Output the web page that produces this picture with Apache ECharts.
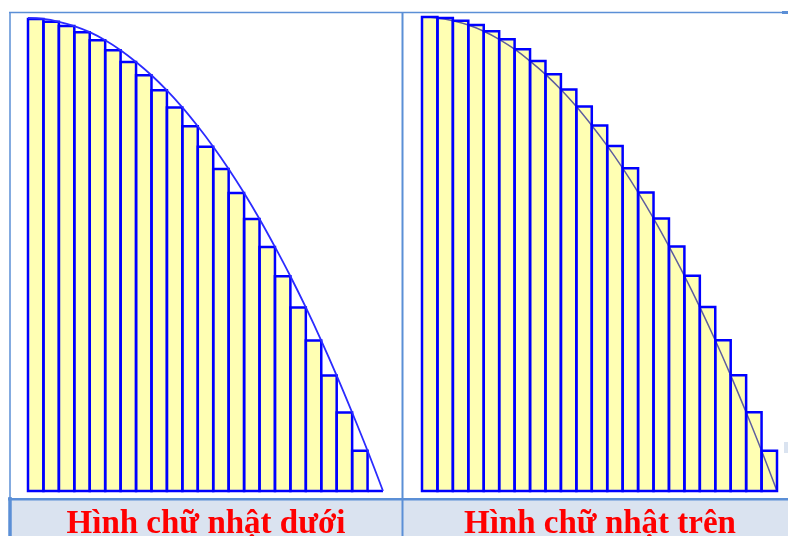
<!DOCTYPE html>
<html>
<head>
<meta charset="utf-8">
<script src="https://cdn.jsdelivr.net/npm/echarts@6/dist/echarts.min.js"></script>
<style>html,body{margin:0;padding:0;background:#fff;}#c{width:788px;height:536px;}</style>
</head>
<body>
<div id="c"></div>
<script>
// interval indices 0..23 along x (23 sub-intervals of [0,1])
var intervals = [0,1,2,3,4,5,6,7,8,9,10,11,12,13,14,15,16,17,18,19,20,21,22,23];
// curve heights read at each interval edge
var curveHeights = [1.000,0.998,0.992,0.983,0.970,0.953,0.932,0.907,0.879,0.847,0.811,0.771,
                    0.728,0.681,0.630,0.575,0.516,0.454,0.388,0.318,0.244,0.166,0.085,0.000];
// lower rectangles use the right edge height, upper rectangles the left edge height
var lowerRects = [];
var upperRects = [];
for (var i = 0; i < intervals.length - 1; i++) {
  lowerRects.push([intervals[i], intervals[i + 1], curveHeights[i + 1]]);
  upperRects.push([intervals[i], intervals[i + 1], curveHeights[i]]);
}
var curvePoints = intervals.map(function (k, i) { return [k, curveHeights[i]]; });
var captions = ['Hình chữ nhật dưới', 'Hình chữ nhật trên'];

var chart = echarts.init(document.getElementById('c'), null, {renderer: 'canvas'});

function rectItem(mode) {
  return function (params, api) {
    var p0 = api.coord([api.value(0), api.value(2)]);
    var p1 = api.coord([api.value(1), 0]);
    var style = mode === 'fill'
      ? {fill: '#FFFFB3', stroke: null}
      : {fill: null, stroke: '#0000FF', lineWidth: 2.5};
    return {
      type: 'rect',
      shape: {x: p0[0], y: p0[1], width: p1[0] - p0[0], height: p1[1] - p0[1]},
      style: style
    };
  };
}

var frameColor = '#5B8FD6';
var captionFont = 'bold 33px "Liberation Serif", "DejaVu Serif", serif';
var option = {
  animation: false,
  backgroundColor: '#ffffff',
  grid: [
    {left: 28, top: 18, width: 355, height: 473},
    {left: 422, top: 17, width: 355, height: 474}
  ],
  xAxis: [
    {type: 'value', gridIndex: 0, min: 0, max: 23, show: false},
    {type: 'value', gridIndex: 1, min: 0, max: 23, show: false}
  ],
  yAxis: [
    {type: 'value', gridIndex: 0, min: 0, max: 1, show: false},
    {type: 'value', gridIndex: 1, min: 0, max: 1, show: false}
  ],
  series: [
    {type: 'custom', xAxisIndex: 0, yAxisIndex: 0, data: lowerRects, renderItem: rectItem('fill'), z: 1, silent: true},
    {type: 'custom', xAxisIndex: 0, yAxisIndex: 0, data: lowerRects, renderItem: rectItem('stroke'), z: 3, silent: true},
    {type: 'line', xAxisIndex: 0, yAxisIndex: 0, data: curvePoints, smooth: 0.4, showSymbol: false, z: 4,
     lineStyle: {color: '#2B2BFF', width: 1.8}, silent: true},
    {type: 'custom', xAxisIndex: 1, yAxisIndex: 1, data: upperRects, renderItem: rectItem('fill'), z: 1, silent: true},
    {type: 'line', xAxisIndex: 1, yAxisIndex: 1, data: curvePoints, smooth: 0.4, showSymbol: false, z: 2,
     lineStyle: {color: '#5E5E9E', width: 1.5}, silent: true},
    {type: 'custom', xAxisIndex: 1, yAxisIndex: 1, data: upperRects, renderItem: rectItem('stroke'), z: 3, silent: true}
  ],
  graphic: [
    {type: 'rect', silent: true, z: 0, shape: {x: 10, y: 500, width: 778, height: 36}, style: {fill: '#DAE3F0'}},
    {type: 'line', silent: true, shape: {x1: 9, y1: 12.5, x2: 788, y2: 12.5}, style: {stroke: frameColor, lineWidth: 1.5}},
    {type: 'rect', silent: true, shape: {x: 782, y: 11, width: 6, height: 3}, style: {fill: frameColor}},
    {type: 'line', silent: true, shape: {x1: 10, y1: 12, x2: 10, y2: 498}, style: {stroke: frameColor, lineWidth: 1.5}},
    {type: 'line', silent: true, shape: {x1: 10, y1: 497, x2: 10, y2: 536}, style: {stroke: frameColor, lineWidth: 3.5}},
    {type: 'line', silent: true, shape: {x1: 402.5, y1: 12, x2: 402.5, y2: 536}, style: {stroke: frameColor, lineWidth: 2}},
    {type: 'line', silent: true, shape: {x1: 8, y1: 499.3, x2: 788, y2: 499.3}, style: {stroke: frameColor, lineWidth: 2.4}},
    {type: 'rect', silent: true, shape: {x: 784, y: 442, width: 4, height: 11}, style: {fill: '#DAE3F0'}},
    {type: 'text', silent: true, z: 10, style: {text: captions[0], x: 206, y: 524, align: 'center', verticalAlign: 'middle',
      fill: '#FF0000', font: captionFont}},
    {type: 'text', silent: true, z: 10, style: {text: captions[1], x: 600, y: 524, align: 'center', verticalAlign: 'middle',
      fill: '#FF0000', font: captionFont}}
  ]
};
chart.setOption(option);
</script>
</body>
</html>
